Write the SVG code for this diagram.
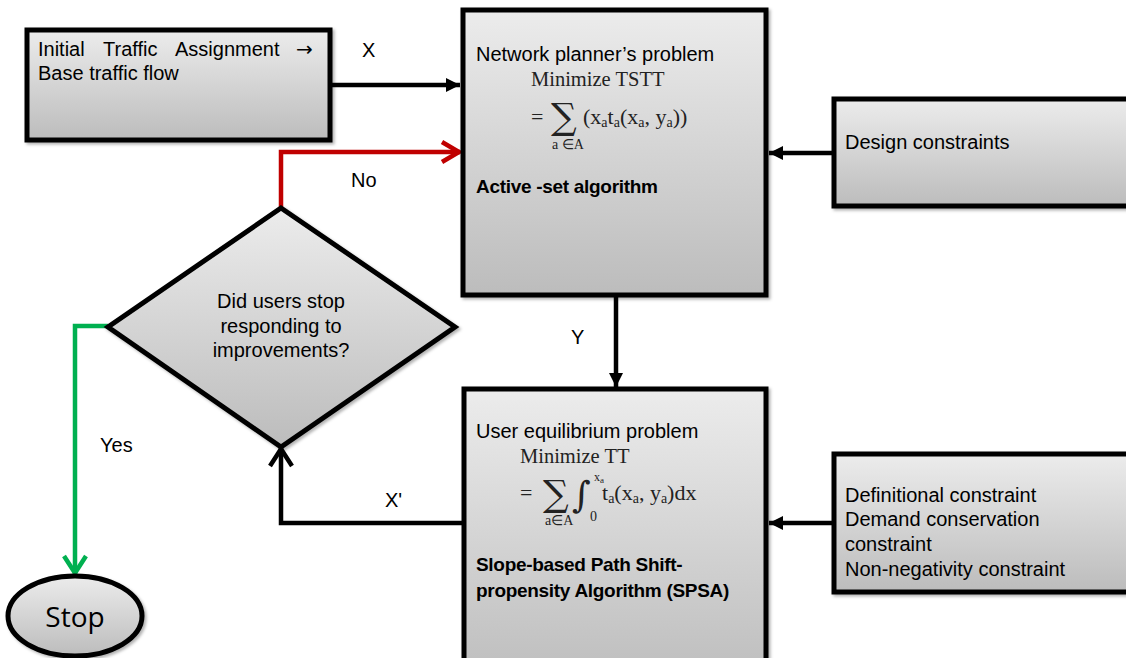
<svg xmlns="http://www.w3.org/2000/svg" width="1126" height="658" viewBox="0 0 1126 658">
<defs>
<linearGradient id="g" x1="0" y1="0" x2="0" y2="1">
<stop offset="0" stop-color="#ececec"/>
<stop offset="1" stop-color="#bcbcbc"/>
</linearGradient>
<filter id="sh" x="-5%" y="-5%" width="115%" height="115%">
<feDropShadow dx="2" dy="2" stdDeviation="1.5" flood-color="#000" flood-opacity="0.3"/>
</filter>
<marker id="fa" markerUnits="userSpaceOnUse" markerWidth="16" markerHeight="16" refX="14" refY="7" orient="auto" overflow="visible">
<path d="M0,0 L14,7 L0,14 z" fill="#000"/>
</marker>
<marker id="cr" markerUnits="userSpaceOnUse" markerWidth="24" markerHeight="24" refX="20" refY="11" orient="auto" overflow="visible">
<path d="M2,1 L19,11 L2,21" fill="none" stroke="#c00000" stroke-width="4.5"/>
</marker>
<marker id="cg" markerUnits="userSpaceOnUse" markerWidth="24" markerHeight="24" refX="20" refY="12" orient="auto" overflow="visible">
<path d="M2,1 L19,12 L2,23" fill="none" stroke="#00b050" stroke-width="4.5"/>
</marker>
<marker id="ck" markerUnits="userSpaceOnUse" markerWidth="24" markerHeight="24" refX="20" refY="12" orient="auto" overflow="visible">
<path d="M2,1 L19,12 L2,23" fill="none" stroke="#000" stroke-width="4.5"/>
</marker>
<style>
.box{fill:url(#g);stroke:#000;stroke-width:5;filter:url(#sh)}
.t{font-family:"Liberation Sans",Arial,sans-serif;font-size:20px;fill:#000}
.b{font-family:"Liberation Sans",Arial,sans-serif;font-size:19px;font-weight:bold;fill:#000;letter-spacing:-0.3px}
.m{font-family:"Liberation Serif","Times New Roman",serif;font-size:20.5px;fill:#222}
.f{font-family:"Liberation Serif","Times New Roman",serif;font-size:22px;fill:#222}
.s{font-size:14px}
.sig{font-family:"DejaVu Serif",serif;font-size:36px;fill:#222}
.ln{fill:none;stroke:#000;stroke-width:4.5}
</style>
</defs>
<g id="connectors">
<path class="ln" d="M331,85 H460" marker-end="url(#fa)"/>
<path class="ln" d="M281,208 V152 H460" style="stroke:#c00000" marker-end="url(#cr)"/>
<path class="ln" d="M108,326 H75 V574" style="stroke:#00b050" marker-end="url(#cg)"/>
<path class="ln" d="M462,523 H281 V448" marker-end="url(#ck)"/>
<path class="ln" d="M616,297 V387" marker-end="url(#fa)"/>
<path class="ln" d="M832,153 H769" marker-end="url(#fa)"/>
<path class="ln" d="M832,523 H769" marker-end="url(#fa)"/>
<text class="t" x="362" y="57">X</text>
<text class="t" x="351" y="187">No</text>
<text class="t" x="571" y="344">Y</text>
<text class="t" x="100" y="452">Yes</text>
<text class="t" x="385" y="507">X'</text>
</g>
<g id="initial">
<rect class="box" x="27" y="30" width="303" height="110"/>
<text class="t" y="56"><tspan x="38">Initial</tspan><tspan x="103">Traffic</tspan><tspan x="175">Assignment</tspan><tspan x="296" style="font-family:'DejaVu Sans',sans-serif;font-size:20px">→</tspan></text>
<text class="t" x="38" y="80">Base traffic flow</text>
</g>
<g id="planner">
<rect class="box" x="463" y="10" width="303" height="285"/>
<text class="t" x="476" y="61">Network planner’s problem</text>
<text class="m" x="531" y="86">Minimize TSTT</text>
<text class="f" x="531" y="124">=</text>
<text class="sig" x="551" y="129">∑</text>
<text class="f" x="583" y="124">(x<tspan class="s" dy="3">a</tspan><tspan dy="-3">t</tspan><tspan class="s" dy="3">a</tspan><tspan dy="-3">(x</tspan><tspan class="s" dy="3">a</tspan><tspan dy="-3">, y</tspan><tspan class="s" dy="3">a</tspan><tspan dy="-3">))</tspan></text>
<text class="m s" x="552" y="149">a ∈A</text>
<text class="b" x="476" y="193">Active -set algorithm</text>
</g>
<g id="design">
<rect class="box" x="834" y="99" width="320" height="107"/>
<text class="t" x="845" y="149">Design constraints</text>
</g>
<g id="decision">
<polygon class="box" points="281,208 455,327 281,447 108,327"/>
<text class="t" text-anchor="middle" x="281" y="308">Did users stop</text>
<text class="t" text-anchor="middle" x="281" y="333">responding to</text>
<text class="t" text-anchor="middle" x="281" y="357">improvements?</text>
</g>
<g id="equilibrium">
<rect class="box" x="464" y="389" width="302" height="300"/>
<text class="t" x="476" y="438">User equilibrium problem</text>
<text class="m" x="520" y="463">Minimize TT</text>
<text class="f" x="520" y="500">=</text>
<text class="sig" x="543" y="506">∑</text>
<text class="sig" x="572" y="507" style="font-size:36px">∫</text>
<text class="m" x="594" y="481" style="font-size:12px">x<tspan dy="2" style="font-size:9px">a</tspan></text>
<text class="m s" x="590" y="521">0</text>
<text class="f" x="602" y="500">t<tspan class="s" dy="3">a</tspan><tspan dy="-3">(x</tspan><tspan class="s" dy="3">a</tspan><tspan dy="-3">, y</tspan><tspan class="s" dy="3">a</tspan><tspan dy="-3">)dx</tspan></text>
<text class="m s" x="545" y="525">a∈A</text>
<text class="b" x="476" y="571">Slope-based Path Shift-</text>
<text class="b" x="476" y="597">propensity Algorithm (SPSA)</text>
</g>
<g id="constraints">
<rect class="box" x="834" y="454" width="320" height="138"/>
<text class="t" x="845" y="502">Definitional constraint</text>
<text class="t" x="845" y="526">Demand conservation</text>
<text class="t" x="845" y="551">constraint</text>
<text class="t" x="845" y="576">Non-negativity constraint</text>
</g>
<g id="stop">
<ellipse class="box" cx="75" cy="616" rx="67" ry="40"/>
<text x="75" y="627" text-anchor="middle" style="font-family:'Open Sans',sans-serif;font-size:28px;fill:#000">Stop</text>
</g>
</svg>
